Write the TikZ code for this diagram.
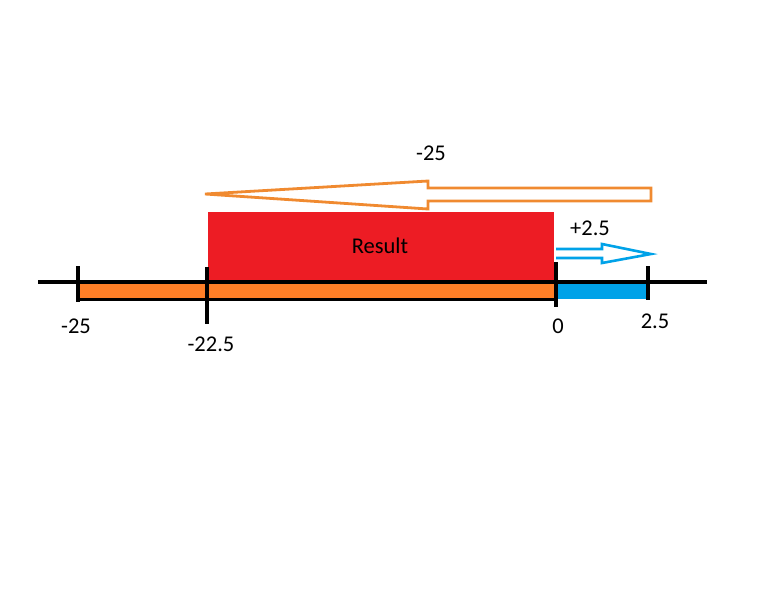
\documentclass[tikz,border=0pt]{standalone}
\usepackage{fontspec}
\setmainfont{Carlito}
\definecolor{porange}{HTML}{FF7F27}
\definecolor{arrorange}{HTML}{F08A30}
\definecolor{pred}{HTML}{ED1C24}
\definecolor{pblue}{HTML}{00A2E8}
\begin{document}
\begin{tikzpicture}[x=1pt,y=-1pt,
  lbl/.style={font=\fontsize{22.5}{26}\selectfont, inner sep=0pt, anchor=center},
  tickline/.style={black, line width=3.2pt},
  axisline/.style={black, line width=3.4pt}]
\useasboundingbox (0,0) rectangle (768,614);
% red result box
\fill[pred] (208,212) rectangle (554,282);
\node[lbl] (res) at (380,246) {Result};
% bars
\fill[porange] (78,284) rectangle (556,299);
\draw[black, line width=3pt] (78,299.5) -- (556,299.5);
\fill[pblue] (556,284) rectangle (648,299);
% axis
\draw[axisline] (38,282) -- (707,282);
% ticks
\coordinate (t1a) at (78,266); \coordinate (t1b) at (78,302);
\coordinate (t2a) at (207,267); \coordinate (t2b) at (207,324);
\coordinate (t3a) at (556,262); \coordinate (t3b) at (556,307);
\coordinate (t4a) at (648,266); \coordinate (t4b) at (648,300);
\draw[tickline] (t1a) -- (t1b);
\draw[tickline] (t2a) -- (t2b);
\draw[tickline] (t3a) -- (t3b);
\draw[tickline] (t4a) -- (t4b);
% labels
\node[lbl] (l1) at (76,326) {-25};
\node[lbl] (l2) at (211,344) {-22.5};
\node[lbl] (l3) at (558,326) {0};
\node[lbl] (l4) at (655,321) {2.5};
\node[lbl] (top) at (431,153) {-25};
\node[lbl] (plus) at (590,228) {+2.5};
% orange outline arrow
\draw[arrorange, line width=2.8pt, line join=miter]
  (651,188) -- (428,188) -- (428,181) -- (205,194) -- (428,209) -- (428,201) -- (651,201) -- cycle;
% blue outline arrow
\draw[pblue, line width=2.6pt, line join=miter]
  (556,249) -- (602,249) -- (602,244) -- (651,254) -- (602,263) -- (602,258) -- (556,258);
\end{tikzpicture}
\end{document}
